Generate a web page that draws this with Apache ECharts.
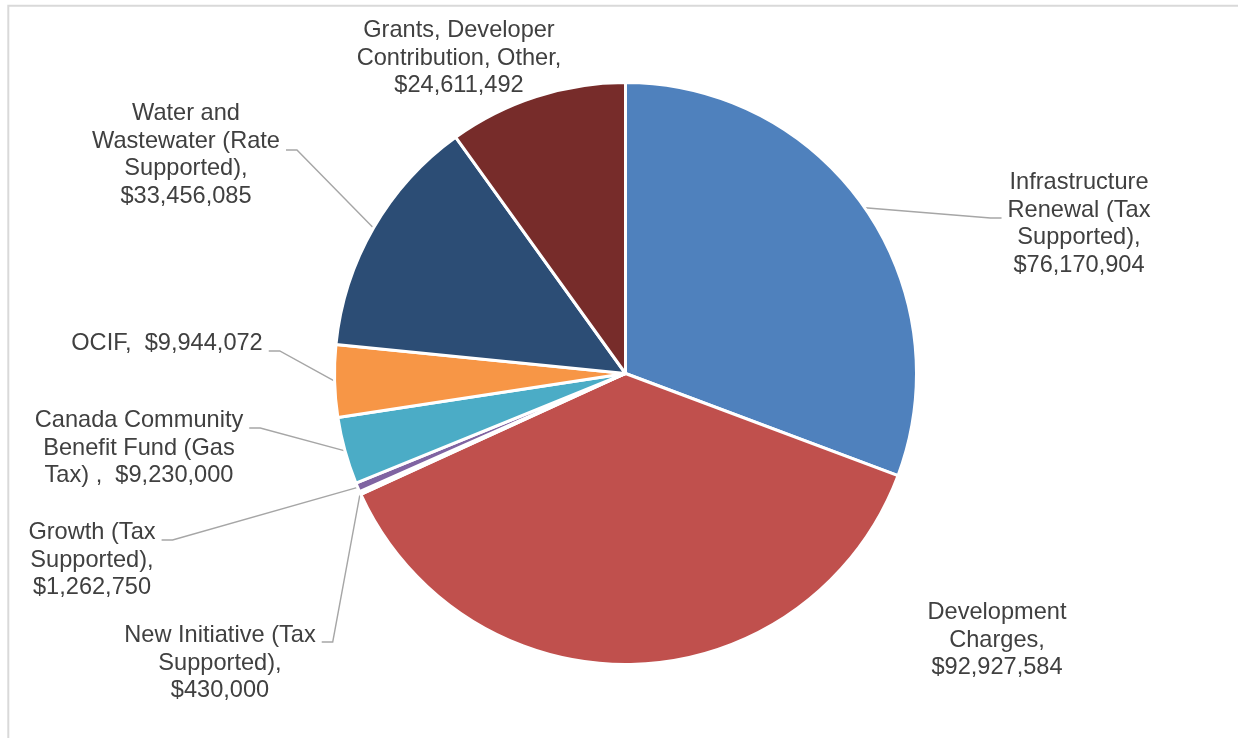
<!DOCTYPE html>
<html>
<head>
<meta charset="utf-8">
<script src="https://cdn.jsdelivr.net/npm/echarts@6/dist/echarts.min.js"></script>
<style>
  html, body { margin: 0; padding: 0; background: #ffffff; }
  #chart { width: 1238px; height: 738px; }
</style>
</head>
<body>
<div id="chart"></div>
<script>
// Capital funding sources, clockwise from 12 o'clock
const categories = [
  'Infrastructure\nRenewal (Tax\nSupported)',
  'Development\nCharges',
  'New Initiative (Tax\nSupported)',
  'Growth (Tax\nSupported)',
  'Canada Community\nBenefit Fund (Gas\nTax) ',
  'OCIF',
  'Water and\nWastewater (Rate\nSupported)',
  'Grants, Developer\nContribution, Other'
];
const amounts = [76170904, 92927584, 430000, 1262750, 9230000, 9944072, 33456085, 24611492];
// value printed on the same line as the name (true) or on its own line (false)
const valueInline = [false, false, false, false, true, true, false, false];
// slices whose label has a leader line
const hasLeader = [true, false, true, true, true, true, true, false];

const palette = ['#4F81BD', '#C0504D', '#9BBB59', '#8064A2', '#4BACC6', '#F79646', '#2C4D75', '#772C2A'];

// label block centres (px) and where the leader meets the block, relative to its centre
const labelCentres = [
  [1079, 224], [997, 640], [220, 663], [92, 560],
  [139, 448], [167, 343], [186, 155], [459, 58]
];
const leaderShift = [-6, 0, -21, -20, -20, 8, -5, 0];
const leaderGap = 6;

const FONT_FAMILY = '"Liberation Sans", Arial, sans-serif';
const FONT_SIZE = 23.6;

function money(v) { return '$' + v.toLocaleString('en-US'); }

function bodyText(i) {
  return categories[i] + (valueInline[i] ? ',  ' : ',\n') + money(amounts[i]);
}

const measureCtx = document.createElement('canvas').getContext('2d');
measureCtx.font = FONT_SIZE + 'px ' + FONT_FAMILY;
function widestLine(text) {
  return Math.max.apply(null, text.split('\n').map(s => measureCtx.measureText(s).width));
}

// an empty spacer line above (or below) the text moves the midpoint of the
// label box, where the leader line attaches; its width leaves a small gap
// between the text and the leader
const spacerStyles = {};
leaderShift.forEach((d, i) => {
  if (d !== 0) {
    spacerStyles['sp' + i] = {
      fontSize: 1,
      lineHeight: Math.abs(d) * 2,
      width: widestLine(bodyText(i)) + 2 * leaderGap
    };
  }
});

function labelText(p) {
  const i = p.dataIndex;
  const body = bodyText(i);
  const d = leaderShift[i];
  if (d < 0) return '{sp' + i + '| }\n' + body;
  if (d > 0) return body + '\n{sp' + i + '| }';
  return body;
}

const chart = echarts.init(document.getElementById('chart'), null, { renderer: 'canvas' });

chart.setOption({
  animation: false,
  backgroundColor: '#ffffff',
  graphic: [{
    type: 'rect',
    silent: true,
    shape: { x: 8.3, y: 5.7, width: 1400, height: 900 },
    style: { fill: 'none', stroke: '#D9D9D9', lineWidth: 2 }
  }],
  series: [{
    type: 'pie',
    center: [625.5, 373.5],
    radius: [0, 291],
    startAngle: 90,
    clockwise: true,
    avoidLabelOverlap: false,
    itemStyle: { borderColor: '#ffffff', borderWidth: 3 },
    label: {
      show: true,
      position: 'outside',
      fontFamily: FONT_FAMILY,
      fontSize: FONT_SIZE,
      lineHeight: 27.5,
      color: '#404040',
      align: 'center',
      formatter: labelText,
      rich: spacerStyles
    },
    labelLine: {
      show: true,
      length: 10,
      length2: 11,
      minTurnAngle: 0,
      maxSurfaceAngle: 180,
      lineStyle: { color: '#A6A6A6', width: 1.4 }
    },
    labelLayout: p => ({
      x: labelCentres[p.dataIndex][0],
      y: labelCentres[p.dataIndex][1] + leaderShift[p.dataIndex],
      align: 'center',
      verticalAlign: 'middle'
    }),
    emphasis: { disabled: true },
    data: categories.map((name, i) => ({
      name: name,
      value: amounts[i],
      itemStyle: { color: palette[i] },
      labelLine: { show: hasLeader[i] }
    }))
  }]
});
</script>
</body>
</html>
